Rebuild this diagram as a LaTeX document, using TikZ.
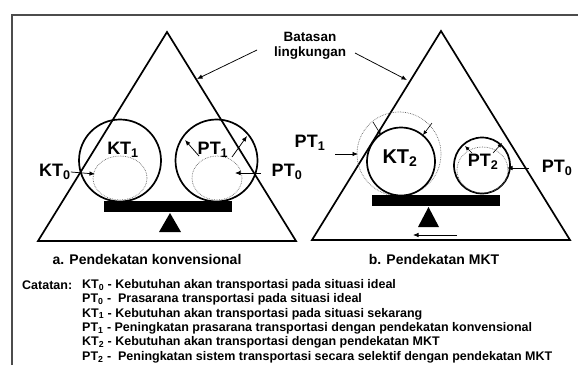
\documentclass[tikz,border=0pt]{standalone}
\usepackage{fontspec}
\setmainfont{Liberation Sans}
\usepackage{tikz}
\usetikzlibrary{positioning,calc,arrows.meta}

\begin{document}
\begin{tikzpicture}[
    x=1pt,
    y=-1pt,
    font=\bfseries,
    >={Latex[length=5.5pt,width=4.5pt]},
    frameline/.style={draw=black!70, line width=1.3pt},
    edge/.style={draw=black, line width=1.7pt, line join=miter},
    bigcirc/.style={circle, draw=black, line width=1.7pt, inner sep=0pt},
    dotcirc/.style={draw=black!60, densely dotted, line width=0.7pt},
    beam/.style={fill=black},
    symlabel/.style={font=\fontsize{18}{20}\selectfont\bfseries, inner sep=0pt},
    bigtext/.style={font=\fontsize{13.5}{15}\selectfont\bfseries, inner sep=0pt, align=center},
    notetext/.style={font=\fontsize{12.5}{14}\selectfont\bfseries, inner sep=0pt, anchor=west},
    flow/.style={->, line width=0.75pt},
    smallflow/.style={-{Latex[length=4.5pt,width=4pt]}, line width=0.6pt}
]
\useasboundingbox (0,0) rectangle (578,365);

% Frame.
\draw[frameline] (12,365) -- (12,15) -- (578,15);

% Environment boundaries.
\draw[edge] (38,241) -- (167,32) -- (296,241) -- cycle;
\draw[edge] (312,240) -- (441,31) -- (570,240) -- cycle;
\node[bigtext] (batasan) at (310,46) {Batasan\\lingkungan};

% a. Conventional approach.
\node[bigcirc, minimum size=82pt] (kt1_circ) at (120,160.5) {};
\node[bigcirc, minimum size=82pt] (pt1_circ) at (216.5,160.5) {};
\draw[dotcirc] (120,178) ellipse (27 and 22);
\draw[dotcirc] (217,178) ellipse (25 and 22);
\fill[beam] (104,201) rectangle (232,212);
\fill[beam] (159,232) -- (181,232) -- (170,213) -- cycle;
\node[symlabel] (kt1) at (123,150) {KT\textsubscript{1}};
\node[symlabel] (pt1) at (213,150) {PT\textsubscript{1}};
\node[symlabel] (kt0) at (55,172) {KT\textsubscript{0}};
\node[symlabel] (pt0_a) at (287,172) {PT\textsubscript{0}};
\coordinate (kt0_tip) at (95,174);
\coordinate (pt0_a_start) at (261,173);
\coordinate (pt0_a_tip) at (235,173);
\coordinate (pt1_l_start) at (199,156);
\coordinate (pt1_l_tip) at (185,140);
\coordinate (pt1_r_start) at (232,157);
\coordinate (pt1_r_tip) at (247,136);
\node[bigtext, font=\fontsize{14}{16}\selectfont\bfseries] (cap_a) at (147,259) {a. Pendekatan konvensional};

% b. MKT approach.
\draw[dotcirc] (399,154) circle (42);
\node[bigcirc, minimum size=68pt] (kt2_circ) at (401,161.5) {};
\node[bigcirc, minimum size=56pt] (pt2_circ) at (482,165.5) {};
\draw[dotcirc] (482.5,170) ellipse (25.5 and 23);
\fill[beam] (372,195) rectangle (500,206);
\fill[beam] (418,227) -- (439,227) -- (428.5,207) -- cycle;
\node[symlabel, font=\fontsize{20}{22}\selectfont\bfseries] (kt2) at (400,158) {KT\textsubscript{2}};
\node[symlabel] (pt2) at (483,162) {PT\textsubscript{2}};
\node[symlabel] (pt1_b) at (310,143) {PT\textsubscript{1}};
\node[symlabel] (pt0_b) at (557,168) {PT\textsubscript{0}};
\coordinate (pt1_b_tip) at (358,154);
\coordinate (pt1_b_start) at (335,154);
\coordinate (kt2_l_start) at (373,122);
\coordinate (kt2_l_tip) at (381,135);
\coordinate (kt2_r_start) at (432,123);
\coordinate (kt2_r_tip) at (423,135);
\coordinate (pt2_l_start) at (472,153);
\coordinate (pt2_l_tip) at (465,146);
\coordinate (pt2_r_start) at (493,153);
\coordinate (pt2_r_tip) at (502,143);
\coordinate (pt0_b_start) at (529,168);
\coordinate (pt0_b_tip) at (507,168);
\coordinate (shift_start) at (457,235);
\coordinate (shift_tip) at (413,235);
\node[bigtext, font=\fontsize{14}{16}\selectfont\bfseries] (cap_b) at (434,259) {b. Pendekatan MKT};

% Boundary pointers.
\coordinate (bnd_a) at (197,79);
\coordinate (bnd_b) at (407,80);
\draw[flow] (257,50) -- (bnd_a);
\draw[flow] (355,53) -- (bnd_b);

% Growth arrows.
\draw[flow] (kt0.east) -- (kt0_tip);
\draw[flow] (pt0_a_start) -- (pt0_a_tip);
\draw[flow] (pt1_l_start) -- (pt1_l_tip);
\draw[flow] (pt1_r_start) -- (pt1_r_tip);
\draw[flow] (pt1_b_start) -- (pt1_b_tip);
\draw[smallflow] (kt2_l_start) -- (kt2_l_tip);
\draw[smallflow] (kt2_r_start) -- (kt2_r_tip);
\draw[smallflow] (pt2_l_start) -- (pt2_l_tip);
\draw[smallflow] (pt2_r_start) -- (pt2_r_tip);
\draw[flow] (pt0_b_start) -- (pt0_b_tip);
\draw[flow] (shift_start) -- (shift_tip);

% Notes.
\node[notetext] (catatan) at (22,285) {Catatan:};
\node[notetext] (n1) at (82,285) {KT\textsubscript{0} - Kebutuhan akan transportasi pada situasi ideal};
\node[notetext] (n2) at (82,299.4) {PT\textsubscript{0} -\ \ Prasarana transportasi pada situasi ideal};
\node[notetext] (n3) at (82,313.8) {KT\textsubscript{1} - Kebutuhan akan transportasi pada situasi sekarang};
\node[notetext] (n4) at (82,328.2) {PT\textsubscript{1} -\ Peningkatan prasarana transportasi dengan pendekatan konvensional};
\node[notetext] (n5) at (82,342.6) {KT\textsubscript{2} - Kebutuhan akan transportasi dengan pendekatan MKT};
\node[notetext] (n6) at (82,357) {PT\textsubscript{2} -\ \ Peningkatan sistem transportasi secara selektif dengan pendekatan MKT};

\end{tikzpicture}
\end{document}
